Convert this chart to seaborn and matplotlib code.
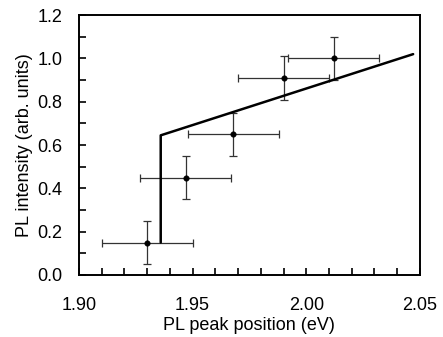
import numpy as np
import pandas as pd
import matplotlib
matplotlib.use('Agg')
import matplotlib.pyplot as plt
from matplotlib.ticker import MultipleLocator
import seaborn as sns

# data
peak_pos = [1.930, 1.947, 1.968, 1.990, 2.012]
intensity = [0.15, 0.45, 0.65, 0.91, 1.00]
pos_err = [0.020, 0.020, 0.020, 0.020, 0.020]
int_err = [0.10, 0.10, 0.10, 0.10, 0.10]

# model curve: step then linear rise
fit_x = [1.936, 1.936, 2.047]
fit_y = [0.15, 0.645, 1.02]

df = pd.DataFrame({'pos': peak_pos, 'I': intensity})
df_fit = pd.DataFrame({'pos': fit_x, 'I': fit_y})

sns.set_style('ticks')
plt.rcParams['font.family'] = ['Liberation Sans', 'DejaVu Sans']
plt.rcParams['text.color'] = 'black'
plt.rcParams['axes.labelcolor'] = 'black'
plt.rcParams['xtick.labelcolor'] = 'black'
plt.rcParams['ytick.labelcolor'] = 'black'

fig = plt.figure(figsize=(4.43, 3.37), dpi=100)
ax = fig.add_axes([0.178, 0.184, 0.77, 0.771])

ax.errorbar(peak_pos, intensity, xerr=pos_err, yerr=int_err, fmt='none',
            ecolor='#333333', elinewidth=0.9, capsize=3, capthick=0.9, zorder=2)
sns.scatterplot(data=df, x='pos', y='I', ax=ax, color='black', s=16,
                edgecolor='black', zorder=3)
sns.lineplot(data=df_fit, x='pos', y='I', ax=ax, sort=False, estimator=None,
             color='black', linewidth=1.8, zorder=4)

ax.set_xlim(1.90, 2.05)
ax.set_ylim(0.0, 1.2)
ax.xaxis.set_major_locator(MultipleLocator(0.05))
ax.xaxis.set_minor_locator(MultipleLocator(0.01))
ax.yaxis.set_major_locator(MultipleLocator(0.2))
ax.yaxis.set_minor_locator(MultipleLocator(0.1))
ax.xaxis.set_major_formatter(plt.FormatStrFormatter('%.2f'))
ax.yaxis.set_major_formatter(plt.FormatStrFormatter('%.1f'))
ax.tick_params(which='both', direction='in', top=False, right=False,
               labelsize=13, width=1.2, color='black', labelcolor='black')
ax.tick_params(which='major', length=5)
ax.tick_params(which='minor', length=5)
ax.tick_params(axis='x', which='major', pad=16)
ax.tick_params(axis='y', which='major', pad=12)
for sp in ax.spines.values():
    sp.set_linewidth(1.4)
    sp.set_color('black')

ax.set_xlabel('PL peak position (eV)', fontsize=13, labelpad=2, color='black')
ax.set_ylabel('PL intensity (arb. units)', fontsize=13, labelpad=3, color='black')

fig.savefig('out.png', dpi=100)
